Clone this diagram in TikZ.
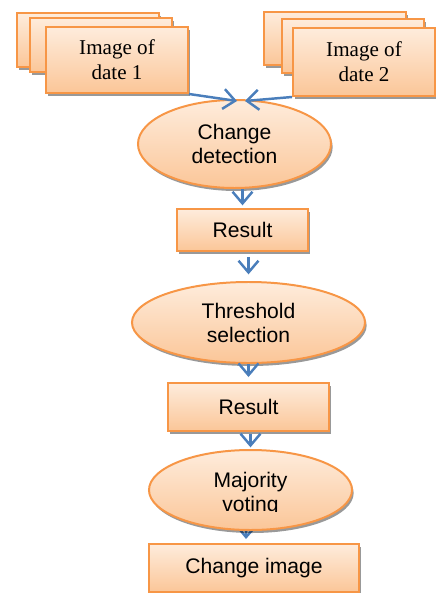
\documentclass[tikz,border=0pt]{standalone}
\usepackage{fontspec}
\setmainfont{Liberation Serif}
\setsansfont{Liberation Sans}
\usetikzlibrary{shapes.geometric,shadows,arrows.meta,backgrounds}
\definecolor{peach1}{RGB}{254,236,220}
\definecolor{peach2}{RGB}{251,198,152}
\definecolor{orange1}{RGB}{247,150,70}
\definecolor{blue1}{RGB}{74,126,187}

\tikzset{
  box/.style={draw=orange1, line width=1.7pt, top color=peach1, bottom color=peach2,
    drop shadow={shadow xshift=0.05cm, shadow yshift=-0.09cm, fill=black, opacity=0.4},
    inner sep=0pt, align=center},
  imgbox/.style={box, rectangle, minimum width=4.26cm, font=\fontsize{18}{21.3}\selectfont},
  resbox/.style={box, rectangle, minimum height=1.44cm, font=\sffamily\fontsize{18}{20.5}\selectfont},
  proc/.style={box, ellipse, font=\sffamily\fontsize{18}{20.5}\selectfont},
  flow/.style={draw=blue1, line width=2.1pt, -{Straight Barb[length=10pt,width=17pt]}}
}

\begin{document}
\begin{tikzpicture}[x=0.03cm, y=-0.03cm]
\useasboundingbox (0,0) rectangle (435,593);

% sheets behind the two input images
\foreach \nm/\x/\y/\h in {img1c/88/40/1.62, img1b/101/45/1.62, img2c/335/38.5/1.59, img2b/353/46/1.62}
{
\node[imgbox, minimum height=\h cm] (\nm) at (\x,\y) {};
}
\node[imgbox, minimum height=1.98cm] (img1) at (117,60) {Image of\\date 1};
\node[imgbox, minimum height=2.04cm] (img2) at (364,62) {Image of\\date 2};

\node[proc, minimum width=5.79cm, minimum height=2.64cm] (det) at (234.5,144) {Change\\detection};
\node[resbox, minimum width=3.93cm, minimum height=1.26cm] (res1) at (242.5,230) {Result};
\node[proc, minimum width=6.99cm, minimum height=2.43cm] (thr) at (248.5,322.5) {Threshold\\selection};
\node[resbox, minimum width=4.83cm] (res2) at (248.5,407) {Result};
\node[proc, minimum width=6.09cm, minimum height=2.4cm] (vote) at (250.5,490) {};
\begin{scope}
\clip (140,450) rectangle (360,511);
\node[font=\sffamily\fontsize{18}{20.5}\selectfont, align=center] (votetxt) at (250.5,494) {Majority\\voting};
\end{scope}
\node[resbox, minimum width=6.3cm] (out) at (254,568) {Change image};

\draw[flow] (img1.south east) -- ([xshift=0.075cm,yshift=-0.06cm]det.north);
\draw[flow] (img2.south west) -- ([xshift=0.315cm,yshift=-0.06cm]det.north);
\draw[flow] (det.south -| res1.north) -- ([yshift=0.08cm]res1.north);
\draw[flow] ([yshift=-0.15cm]thr.north |- res1.south) -- ([yshift=0.2cm]thr.north);
\draw[flow] (thr.south) -- ([yshift=0.15cm]thr.south |- res2.north);
\draw[flow] ([yshift=-0.05cm]vote.north |- res2.south) -- ([yshift=0.05cm]vote.north);
\begin{pgfonlayer}{background}
\draw[flow] ([xshift=-0.12cm,yshift=0.7cm]vote.south) -- ([xshift=-0.24cm,yshift=0.12cm]out.north);
\end{pgfonlayer}
\end{tikzpicture}
\end{document}
